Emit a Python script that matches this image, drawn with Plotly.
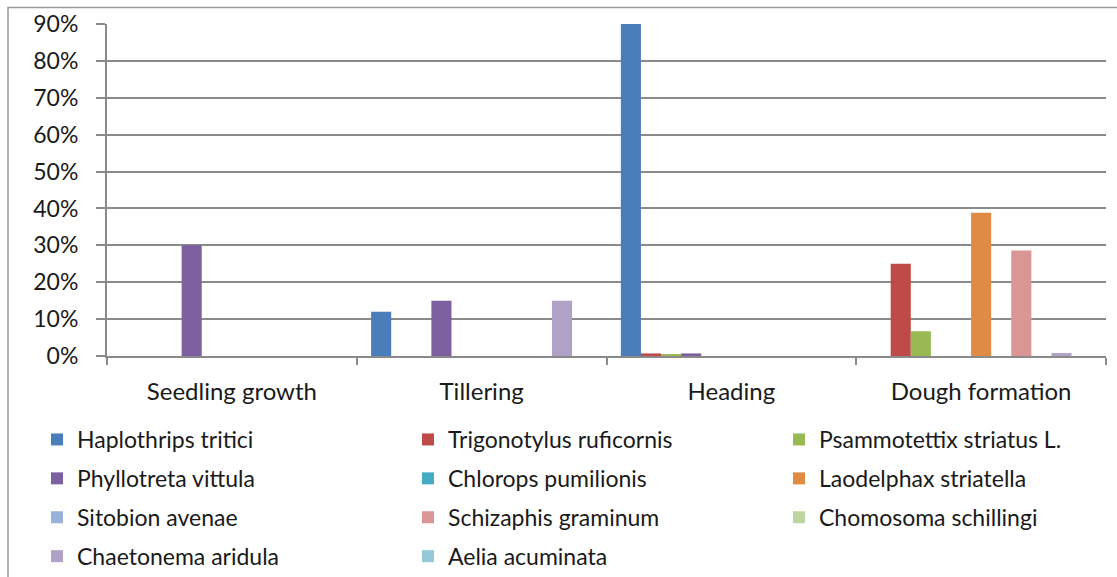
import plotly.graph_objects as go

# Growth stages of wheat (x categories)
stages = ["Seedling growth", "Tillering", "Heading", "Dough formation"]

# Relative share of each pest at each growth stage (fractions)
haplothrips_tritici = [0.0, 0.12, 0.90, 0.0]
trigonotylus_ruficornis = [0.0, 0.0, 0.007, 0.25]
psammotettix_striatus = [0.0, 0.0, 0.004, 0.067]
phyllotreta_vittula = [0.30, 0.15, 0.007, 0.0]
chlorops_pumilionis = [0.0, 0.0, 0.0, 0.0]
laodelphax_striatella = [0.0, 0.0, 0.0, 0.388]
sitobion_avenae = [0.0, 0.0, 0.0, 0.0]
schizaphis_graminum = [0.0, 0.0, 0.0, 0.286]
chomosoma_schillingi = [0.0, 0.0, 0.0, 0.0]
chaetonema_aridula = [0.0, 0.15, 0.0, 0.008]
aelia_acuminata = [0.0, 0.0, 0.0, 0.0]

series_names = [
    "Haplothrips tritici", "Trigonotylus ruficornis", "Psammotettix striatus L.",
    "Phyllotreta vittula", "Chlorops pumilionis", "Laodelphax striatella",
    "Sitobion avenae", "Schizaphis graminum", "Chomosoma schillingi",
    "Chaetonema aridula", "Aelia acuminata",
]
series_values = [
    haplothrips_tritici, trigonotylus_ruficornis, psammotettix_striatus,
    phyllotreta_vittula, chlorops_pumilionis, laodelphax_striatella,
    sitobion_avenae, schizaphis_graminum, chomosoma_schillingi,
    chaetonema_aridula, aelia_acuminata,
]
series_colors = [
    "#4A7EBB", "#BE4B48", "#98B954", "#7D60A0", "#46AAC5", "#E08B43",
    "#98B2D9", "#D99694", "#C0D4A0", "#B0A1C6", "#95C9DA",
]

y_ticks = [0.0, 0.1, 0.2, 0.3, 0.4, 0.5, 0.6, 0.7, 0.8, 0.9]

FONT = "Lato"
TEXT = "#1a1a1a"
W, H = 1117, 577
ML, MR, MT, MB = 107, 11, 24, 221
plot_w = W - ML - MR
plot_h = H - MT - MB


def px_x(px):
    return (px - ML) / plot_w


def px_y(py):
    return (H - MB - py) / plot_h


# legend laid out as three vertical columns, filled row by row;
# every entry is its own group so tracegroupgap sets the row pitch
legend_ids = ["legend", "legend2", "legend3"]
legend_cols_px = [37, 408, 779]

fig = go.Figure()
for i, (name, vals, col) in enumerate(zip(series_names, series_values, series_colors)):
    fig.add_trace(go.Bar(
        name=name,
        x=stages,
        y=vals,
        marker=dict(color=col, line=dict(width=0)),
        legend=legend_ids[i % 3],
        legendgroup=name,
    ))

layout_legends = {}
for lid, lx in zip(legend_ids, legend_cols_px):
    layout_legends[lid] = dict(
        orientation="v",
        font=dict(family=FONT, size=23, color=TEXT),
        bgcolor="rgba(0,0,0,0)",
        xref="container",
        yref="container",
        xanchor="left",
        yanchor="top",
        x=lx / W,
        y=1 - 418 / H,
        tracegroupgap=6,
        itemclick=False,
        itemdoubleclick=False,
    )

fig.update_layout(
    width=W,
    height=H,
    margin=dict(l=ML, r=MR, t=MT, b=MB, autoexpand=False),
    paper_bgcolor="white",
    plot_bgcolor="white",
    barmode="group",
    bargap=0.115,
    bargroupgap=0,
    font=dict(family=FONT, size=21, color=TEXT),
    showlegend=True,
    **layout_legends,
    xaxis=dict(
        showline=True,
        linecolor="#8A8A8A",
        linewidth=2,
        ticks="outside",
        tickson="boundaries",
        ticklen=7,
        tickcolor="#8A8A8A",
        tickwidth=1.5,
        showgrid=False,
        tickfont=dict(family=FONT, size=24, color=TEXT),
        ticklabelstandoff=13,
    ),
    yaxis=dict(
        range=[0, 0.9],
        tickvals=y_ticks,
        tickformat=".0%",
        showline=True,
        linecolor="#8A8A8A",
        linewidth=2,
        ticks="outside",
        ticklen=9,
        tickcolor="#8A8A8A",
        tickwidth=1.5,
        showgrid=True,
        gridcolor="#8A8A8A",
        gridwidth=2,
        zeroline=False,
        tickfont=dict(family=FONT, size=23, color=TEXT),
        ticklabelstandoff=13,
    ),
    shapes=[
        dict(
            type="rect", xref="paper", yref="paper",
            x0=px_x(8), x1=px_x(1140), y0=px_y(600), y1=px_y(7.5),
            line=dict(color="#9A9A9A", width=1.5),
            fillcolor="rgba(0,0,0,0)",
            layer="below",
        )
    ],
)

fig.write_html("out.html")
